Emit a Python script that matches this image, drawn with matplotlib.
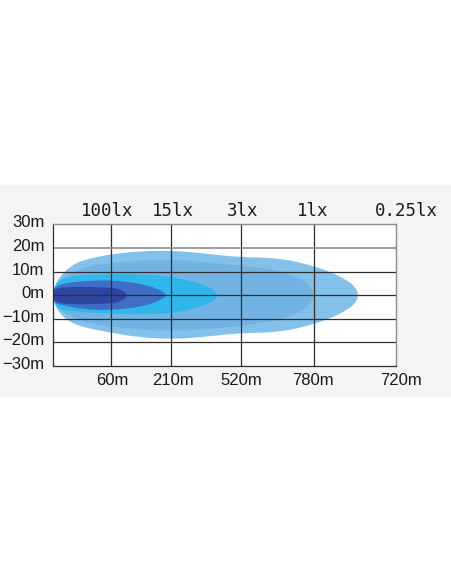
import numpy as np
import matplotlib
matplotlib.use("Agg")
import matplotlib.pyplot as plt
from matplotlib.patches import Rectangle, PathPatch
from matplotlib.path import Path
from matplotlib.transforms import ScaledTranslation

# beam outlines: x on a 0-100 chart scale, half widths in metres
outer_x = [0, 0.5, 2.1, 5.0, 8.9, 17.2, 25.4, 34.2, 42.9, 51.6, 57.5, 65.2, 73.0, 80.8, 85.6, 88.1, 89.2]
outer_top = [0, 3.8, 7.9, 12.1, 15.0, 17.4, 18.6, 18.9, 17.9, 16.4, 16.0, 15.7, 13.6, 10.0, 6.4, 3.6, 0]
outer_bot = [0, -3.8, -7.9, -11.4, -13.6, -16.0, -17.9, -18.6, -17.9, -16.4, -16.0, -15.7, -13.6, -10.0, -6.4, -3.6, 0]

medium_x = [0, 0.5, 2.1, 5.0, 8.9, 13.8, 24.0, 34.2, 43.0, 51.6, 60.0, 67.2, 73.0, 75.0, 76.4]
medium_top = [0, 3.0, 6.5, 9.3, 11.4, 13.2, 14.6, 15.0, 14.3, 12.9, 11.8, 10.0, 6.5, 3.6, 0]
medium_bot = [0, -3.0, -6.5, -9.0, -11.0, -12.8, -14.5, -15.2, -14.6, -13.6, -12.0, -10.2, -6.4, -3.6, 0]

cyan_x = [0, 0.5, 2.1, 8.9, 17.2, 25.4, 34.2, 41.0, 45.8, 48.6]
cyan_top = [0, 3.4, 7.1, 8.6, 8.9, 8.9, 7.9, 5.7, 3.6, 0]
cyan_bot = [0, -3.4, -6.5, -7.1, -7.9, -8.1, -7.9, -5.7, -3.6, 0]

dark_x = [0, 0.3, 3.1, 8.9, 17.2, 25.4, 30.3, 33.8]
dark_top = [0, 3.4, 5.0, 6.0, 6.4, 5.0, 2.9, 0]
dark_bot = [0, -3.4, -4.3, -6.0, -6.4, -5.0, -2.9, 0]

navy_x = [0, 0.6, 5.0, 17.2, 20.1, 22.0]
navy_top = [0, 2.9, 3.6, 3.3, 2.4, 0]
navy_bot = [0, -2.9, -4.0, -3.6, -2.6, 0]

grid_x = [17.0, 34.4, 54.9, 76.2]
y_ticks = [30, 20, 10, 0, -10, -20, -30]
y_labels = ["30m", "20m", "10m", "0m", "\u221210m", "\u221220m", "\u221230m"]
lux_labels = ["100lx", "15lx", "3lx", "1lx", "0.25lx"]
lux_pos = [16.0, 35.0, 55.4, 75.8, 102.9]
dist_labels = ["60m", "210m", "520m", "780m", "720m"]
dist_pos = [17.4, 35.0, 55.0, 75.7, 101.4]


def beam_path(xs, top, bot):
    # closed outline, drawn with quadratic curves through edge midpoints
    pts = list(zip(xs, top)) + list(zip(xs[-2:0:-1], bot[-2:0:-1]))
    pts = np.array(pts, dtype=float)
    n = len(pts)
    mids = (pts + np.roll(pts, -1, axis=0)) / 2
    verts = [mids[-1]]
    codes = [Path.MOVETO]
    for i in range(n):
        verts += [pts[i], mids[i]]
        codes += [Path.CURVE3, Path.CURVE3]
    verts.append(mids[-1])
    codes.append(Path.CLOSEPOLY)
    return Path(verts, codes)


fig = plt.figure(figsize=(4.52, 5.84), dpi=100)
fig.patch.set_facecolor("white")
# light grey band behind the chart
fig.patches.append(Rectangle((0, 0.320), 1, 0.363, transform=fig.transFigure,
                             facecolor="#f4f4f4", edgecolor="none", zorder=-10))

ax = fig.add_axes([0.1166, 0.3733, 0.7595, 0.2426])
ax.set_zorder(2)
ax.set_facecolor("white")

layers = [
    (outer_x, outer_top, outer_bot, "#84c1ea"),
    (medium_x, medium_top, medium_bot, "#72b3e4"),
    (cyan_x, cyan_top, cyan_bot, "#2fb7ec"),
    (dark_x, dark_top, dark_bot, "#3f6ec6"),
    (navy_x, navy_top, navy_bot, "#2d46a2"),
]
for xs, top, bot, col in layers:
    ax.add_patch(PathPatch(beam_path(xs, top, bot), facecolor=col, lw=0, zorder=1))

for gx in grid_x:
    ax.axvline(gx, color="#2e2e2e", lw=0.9, zorder=3)
for gy in [10, 0, -10, -20]:
    ax.axhline(gy, color="#2e2e2e", lw=0.9, zorder=3)
ax.axhline(20, color="#8c8c8c", lw=1.2, zorder=3)

ax.set_xlim(0, 100)
ax.set_ylim(-30, 30)
for side in ["left", "bottom"]:
    ax.spines[side].set_color("#2e2e2e")
    ax.spines[side].set_linewidth(0.9)
for side in ["top", "right"]:
    ax.spines[side].set_color("#8c8c8c")
    ax.spines[side].set_linewidth(1.0)
for sp in ax.spines.values():
    sp.set_zorder(4)

ax.set_xticks([])
ax.set_yticks(y_ticks)
ax.set_yticklabels(y_labels, fontsize=12, family="Liberation Sans", color="#1a1a1a")
ax.tick_params(axis="y", length=0, pad=6)
shift = ScaledTranslation(0, 0.03, fig.dpi_scale_trans)
for lab in ax.get_yticklabels():
    lab.set_transform(lab.get_transform() + shift)

for t, p in zip(lux_labels, lux_pos):
    ax.text(p, 1.096, t, transform=ax.get_xaxis_transform(), ha="center", va="center",
            fontsize=12.5, family="DejaVu Sans Mono", color="#1a1a1a", clip_on=False)
for t, p in zip(dist_labels, dist_pos):
    ax.text(p, -0.099, t, transform=ax.get_xaxis_transform(), ha="center", va="center",
            fontsize=12, family="Liberation Sans", color="#1a1a1a", clip_on=False)

fig.savefig("out.png", dpi=100)
